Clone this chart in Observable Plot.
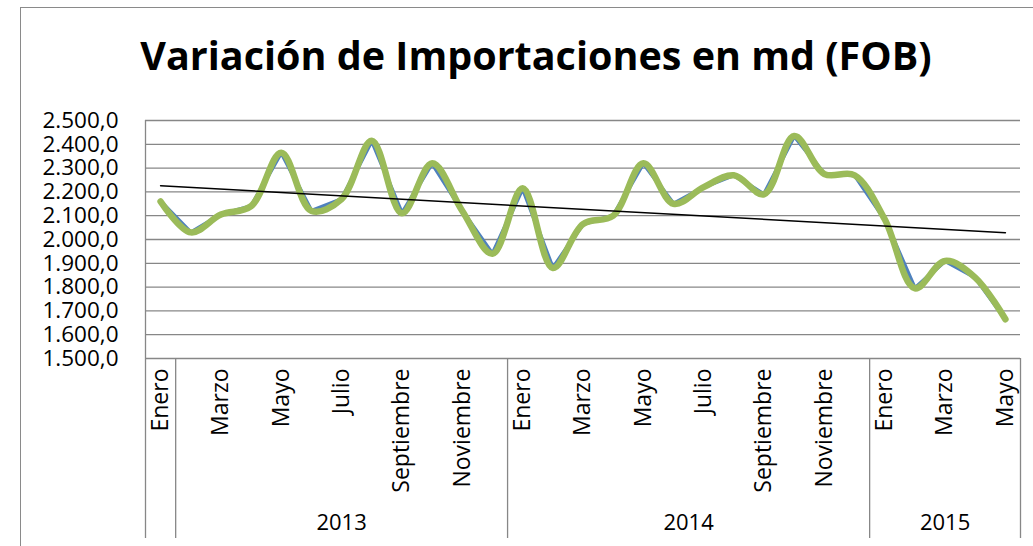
<!DOCTYPE html>
<html>
<head>
<meta charset="utf-8">
<script src="https://cdn.jsdelivr.net/npm/d3@7"></script>
<script src="https://cdn.jsdelivr.net/npm/@observablehq/plot@0.6"></script>
<style>
  html, body { margin: 0; padding: 0; background: #fff; overflow: hidden; }
  #wrap { position: relative; width: 1033px; height: 546px; }
  #border { position: absolute; left: 20px; top: 7px; width: 1100px; height: 600px;
            border: 1.5px solid #8a8a8a; box-sizing: border-box; }
  #chart { position: absolute; left: 0; top: 0; }
</style>
</head>
<body>
<div id="wrap"><div id="border"></div><div id="chart"></div></div>
<script>
const title = "Variación de Importaciones en md (FOB)";
const monthNames = ["Enero","Febrero","Marzo","Abril","Mayo","Junio","Julio","Agosto","Septiembre","Octubre","Noviembre","Diciembre"];
// Monthly values, Jan 2013 .. May 2015
const values = [2160, 2030, 2105, 2140, 2365, 2120, 2170, 2415, 2110, 2320, 2120, 1940,
                2215, 1880, 2065, 2100, 2320, 2150, 2220, 2270, 2190, 2435, 2275, 2270,
                2085, 1795, 1910, 1840, 1665];
const yTicks = [1500, 1600, 1700, 1800, 1900, 2000, 2100, 2200, 2300, 2400, 2500];
// shown month labels (every other month)
const labelIdx = [0, 2, 4, 6, 8, 10, 12, 14, 16, 18, 20, 22, 24, 26, 28];
// year groups of the category axis (first, index range)
const yearGroups = [
  {year: "", start: 0, end: 0},
  {year: "2013", start: 1, end: 11},
  {year: "2014", start: 12, end: 23},
  {year: "2015", start: 24, end: 28}
];

const data = values.map((v, i) => ({i, v}));
const locale = d3.formatLocale({decimal: ",", thousands: ".", grouping: [3], currency: ["", ""]});
const fmt = locale.format(",.1f");
const font = "'Open Sans', Lato, sans-serif";
const gray = "#878787";
const dividers = yearGroups.slice(1).map(g => g.start - 0.5).concat([yearGroups[yearGroups.length - 1].end + 0.5]);

const plot = Plot.plot({
  width: 1033,
  height: 546,
  marginLeft: 145,
  marginRight: 13,
  marginTop: 120,
  marginBottom: 188,
  style: {fontFamily: font, color: "#000", background: "transparent", overflow: "visible"},
  x: {type: "linear", domain: [-0.5, values.length - 0.5], axis: null},
  y: {domain: [1500, 2500], axis: null},
  marks: [
    Plot.ruleY(yTicks, {stroke: gray, strokeWidth: 1.3}),
    Plot.ruleX([-0.5], {stroke: gray, strokeWidth: 1.3, insetBottom: -180}),
    Plot.ruleX(dividers, {stroke: gray, strokeWidth: 1.3, insetTop: 238, insetBottom: -180}),
    Plot.axisY({ticks: yTicks, tickFormat: fmt, tickSize: 0, tickPadding: 27, fontSize: 22.5, fill: "#000", label: null}),
    Plot.text(labelIdx, {x: d => d, text: d => monthNames[d % 12], frameAnchor: "bottom",
      rotate: -90, textAnchor: "end", lineAnchor: "middle", dy: 10, fontSize: 23, fill: "#000"}),
    Plot.text(yearGroups.filter(g => g.year), {x: g => (g.start + g.end) / 2, text: "year",
      frameAnchor: "bottom", dy: 171, fontSize: 22, fill: "#000"}),
    Plot.line(data, {x: "i", y: "v", stroke: "#4F81BD", strokeWidth: 4, strokeLinejoin: "round"}),
    Plot.line(data, {x: "i", y: "v", stroke: "#9BBB59", strokeWidth: 6.5, curve: "catmull-rom", strokeLinejoin: "round", strokeLinecap: "round"}),
    Plot.linearRegressionY(data, {x: "i", y: "v", stroke: "#000", strokeWidth: 1.5, ci: 0}),
    Plot.text([title], {frameAnchor: "top", dx: -47, dy: -51, lineAnchor: "bottom",
      fontSize: 39.5, fontWeight: "bold", fill: "#000"})
  ]
});
document.getElementById("chart").appendChild(plot);
</script>
</body>
</html>
